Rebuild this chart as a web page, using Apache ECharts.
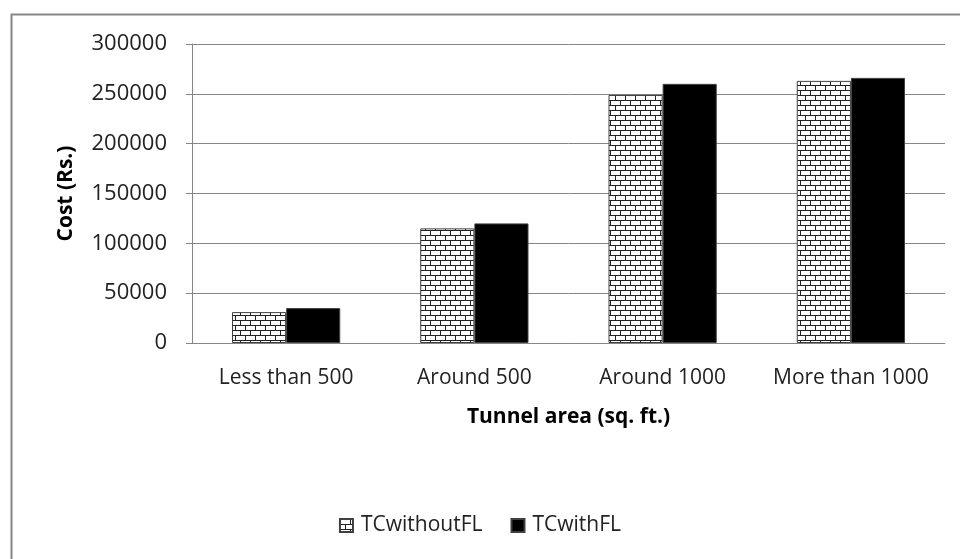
<!DOCTYPE html>
<html>
<head>
<meta charset="utf-8">
<script src="https://cdn.jsdelivr.net/npm/echarts@6/dist/echarts.min.js"></script>
<style>
  html, body { margin: 0; padding: 0; background: #fff; }
  #main { width: 960px; height: 559px; }
</style>
</head>
<body>
<div id="main"></div>
<script>
var categories = ['Less than 500', 'Around 500', 'Around 1000', 'More than 1000'];
var withoutFL = [31000, 115000, 249000, 263000];
var withFL = [35000, 120000, 260000, 266000];
var seriesNames = ['TCwithoutFL', 'TCwithFL'];

// brick pattern for the first series
function brickPattern() {
  var c = document.createElement('canvas');
  c.width = 10;
  c.height = 10;
  var ctx = c.getContext('2d');
  ctx.fillStyle = '#fff';
  ctx.fillRect(0, 0, 10, 10);
  ctx.fillStyle = '#222';
  ctx.fillRect(0, 0, 10, 1);
  ctx.fillRect(0, 5, 10, 1);
  ctx.fillRect(0, 0, 1, 5);
  ctx.fillRect(5, 5, 1, 5);
  return c;
}

var font = '"Open Sans", "Noto Sans", sans-serif';
var myChart = echarts.init(document.getElementById('main'));
myChart.setOption({
  animation: false,
  textStyle: { fontFamily: font },
  graphic: [{
    type: 'rect',
    shape: { x: 11.5, y: 14.5, width: 960, height: 560 },
    style: { fill: 'none', stroke: '#868686', lineWidth: 2 },
    silent: true
  }],
  grid: { left: 192, right: 15, top: 44, bottom: 216 },
  legend: {
    top: 510,
    left: 'center',
    icon: 'rect',
    itemWidth: 13,
    itemHeight: 13,
    itemGap: 28,
    textStyle: { fontSize: 21, color: '#222', fontFamily: font, padding: [0, 0, 0, 3] },
    data: seriesNames
  },
  xAxis: {
    type: 'category',
    data: categories,
    name: 'Tunnel area (sq. ft.)',
    nameLocation: 'middle',
    nameGap: 64,
    nameMoveOverlap: false,
    nameTextStyle: { fontSize: 21, fontWeight: 'bold', color: '#000', fontFamily: font },
    axisLine: { lineStyle: { color: '#868686', width: 1 } },
    axisTick: { show: false },
    axisLabel: { fontSize: 21, color: '#222', margin: 25, interval: 0, hideOverlap: false }
  },
  yAxis: {
    type: 'value',
    min: 0,
    max: 300000,
    interval: 50000,
    name: 'Cost (Rs.)',
    nameLocation: 'middle',
    nameGap: 115,
    nameMoveOverlap: false,
    nameRotate: 90,
    nameTextStyle: { fontSize: 21, fontWeight: 'bold', color: '#000', fontFamily: font },
    axisLine: { show: true, lineStyle: { color: '#868686' } },
    axisTick: { show: true, length: 6, lineStyle: { color: '#868686' } },
    axisLabel: {
      fontSize: 22,
      color: '#222',
      margin: 25,
      formatter: function (v) { return String(v); }
    },
    splitLine: { lineStyle: { color: '#868686', width: 1 } }
  },
  series: [
    {
      name: seriesNames[0],
      type: 'bar',
      data: withoutFL,
      barGap: '0%',
      barCategoryGap: '42.5%',
      itemStyle: {
        color: { image: brickPattern(), repeat: 'repeat' },
        borderColor: '#404040',
        borderWidth: 1
      }
    },
    {
      name: seriesNames[1],
      type: 'bar',
      data: withFL,
      itemStyle: { color: '#000', borderColor: '#404040', borderWidth: 1 }
    }
  ]
});
</script>
</body>
</html>
